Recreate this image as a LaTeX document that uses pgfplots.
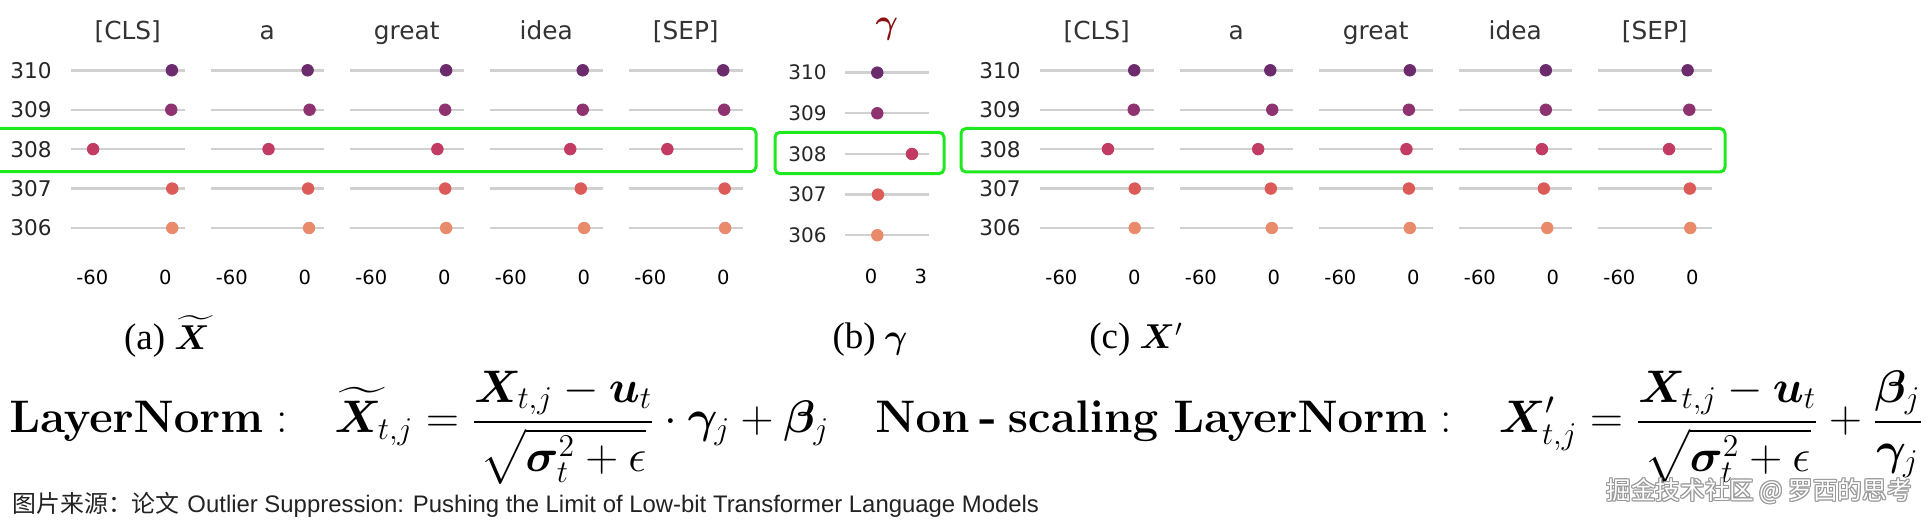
\documentclass[border=0pt]{standalone}
\usepackage{amsmath,bm}
\usepackage[no-math]{fontspec}
\usepackage{pgfplots}
\usepackage{pgfplotstable}
\pgfplotsset{compat=1.18}
\newfontfamily\dejavu{DejaVu Sans}
\newfontfamily\timesfont{Liberation Serif}
\newfontfamily\arialfont{Liberation Sans}
\newfontfamily\cjk{Noto Sans CJK SC}

\definecolor{c310}{HTML}{6C2B6D}
\definecolor{c309}{HTML}{8F3370}
\definecolor{c308}{HTML}{C13B62}
\definecolor{c307}{HTML}{DC5B59}
\definecolor{c306}{HTML}{E98A6B}
\definecolor{gridgray}{HTML}{D0D0D0}
\definecolor{hdr}{HTML}{333333}
\definecolor{lbl}{HTML}{262626}
\definecolor{boxgreen}{RGB}{30,232,30}
\definecolor{gammared}{HTML}{8B1010}
\definecolor{srcgray}{HTML}{222222}

% panel (a): X tilde
\pgfplotstableread{
row cl cls a great idea sep
310 r310 5.5 2.4 1.6 -0.8 0.0
309 r309 5.0 4.0 0.8 -0.8 0.8
308 r308 -59.4 -29.8 -5.6 -11.1 -46.0
307 r307 5.8 2.8 0.8 -2.4 1.2
306 r306 5.8 3.6 1.6 0.4 1.6
}\tabA
% panel (b): gamma
\pgfplotstableread{
row cl g
310 r310 0.38
309 r309 0.38
308 r308 2.47
307 r307 0.42
306 r306 0.38
}\tabB
% panel (c): X'
\pgfplotstableread{
row cl cls a great idea sep
310 r310 0.0 -2.8 -2.8 -5.7 -3.8
309 r309 -0.4 -1.2 -3.6 -5.7 -2.4
308 r308 -21.6 -12.8 -5.6 -8.9 -19.1
307 r307 0.4 -2.4 -3.6 -7.3 -2.0
306 r306 0.4 -1.6 -2.8 -4.5 -1.6
}\tabC

\pgfplotsset{
 dots/.style={only marks, scatter, scatter src=explicit symbolic, mark=*, mark size=2.9pt,
   scatter/classes={
     r310={mark=*,draw=c310,fill=c310},
     r309={mark=*,draw=c309,fill=c309},
     r308={mark=*,draw=c308,fill=c308},
     r307={mark=*,draw=c307,fill=c307},
     r306={mark=*,draw=c306,fill=c306}}},
 base/.style={scale only axis, anchor=south west, ymin=305.5, ymax=310.5,
   axis line style={draw=none}, major tick length=0pt,
   ymajorgrids, major grid style={line width=1.2pt, gridgray},
   ytick={306,307,308,309,310}, yticklabels={}, clip=false,
   xticklabel style={font=\dejavu\fontsize{9.75}{11}\selectfont, anchor=center, inner sep=0pt, text=black},
   yticklabel style={font=\dejavu\fontsize{10.8}{12}\selectfont, anchor=east, inner sep=0pt, text=lbl},
   title style={font=\dejavu\fontsize{12.4}{14}\selectfont, text=hdr, at={(0.5,1)}, anchor=base, inner sep=0pt}},
 big/.style={base, width=56.75pt, height=98.55pt, xmin=-77.6, xmax=15.9,
   xtick={-60,0}, xticklabels={-60,0}, xticklabel style={yshift=-14.65pt},
   yticklabel style={xshift=-9.5pt}, title style={yshift=-0.7pt}},
}

\begin{document}
\begin{tikzpicture}
\useasboundingbox (0,0) rectangle (965pt,-261pt);

% ---------- panel (a) ----------
\begin{axis}[big, at={(35.5pt,-123.85pt)}, title={[CLS]}, yticklabels={306,307,308,309,310}]
\addplot[dots] table[x=cls,y=row,meta=cl]{\tabA};
\end{axis}
\begin{axis}[big, at={(105.25pt,-123.85pt)}, title={a}]
\addplot[dots] table[x=a,y=row,meta=cl]{\tabA};
\end{axis}
\begin{axis}[big, at={(175pt,-123.85pt)}, title={great}]
\addplot[dots] table[x=great,y=row,meta=cl]{\tabA};
\end{axis}
\begin{axis}[big, at={(244.75pt,-123.85pt)}, title={idea}]
\addplot[dots] table[x=idea,y=row,meta=cl]{\tabA};
\end{axis}
\begin{axis}[big, at={(314.5pt,-123.85pt)}, title={[SEP]}]
\addplot[dots] table[x=sep,y=row,meta=cl]{\tabA};
\end{axis}

% ---------- panel (b) ----------
\begin{axis}[base, width=41.7pt, height=101.65pt, at={(422.65pt,-127.8pt)},
  xmin=-1.55, xmax=3.48, xtick={0,3}, xticklabels={0,3}, xticklabel style={yshift=-10.55pt},
  yticklabels={306,307,308,309,310},
  yticklabel style={font=\dejavu\fontsize{10}{12}\selectfont, xshift=-9.15pt},
  title={$\bm{\gamma}$}, title style={text=gammared, font=\fontsize{16}{19}\selectfont, yshift=3.5pt}]
\addplot[dots] table[x=g,y=row,meta=cl]{\tabB};
\end{axis}

% ---------- panel (c) ----------
\begin{axis}[big, at={(520pt,-123.85pt)}, title={[CLS]}, yticklabels={306,307,308,309,310}]
\addplot[dots] table[x=cls,y=row,meta=cl]{\tabC};
\end{axis}
\begin{axis}[big, at={(589.75pt,-123.85pt)}, title={a}]
\addplot[dots] table[x=a,y=row,meta=cl]{\tabC};
\end{axis}
\begin{axis}[big, at={(659.5pt,-123.85pt)}, title={great}]
\addplot[dots] table[x=great,y=row,meta=cl]{\tabC};
\end{axis}
\begin{axis}[big, at={(729.25pt,-123.85pt)}, title={idea}]
\addplot[dots] table[x=idea,y=row,meta=cl]{\tabC};
\end{axis}
\begin{axis}[big, at={(799pt,-123.85pt)}, title={[SEP]}]
\addplot[dots] table[x=sep,y=row,meta=cl]{\tabC};
\end{axis}

\begin{scope}[x=0.5pt,y=-0.5pt]
% highlight boxes
\draw[boxgreen, line width=1.5pt, rounded corners=2.5pt] (-6,128.3) rectangle (756,171.7);
\draw[boxgreen, line width=1.5pt, rounded corners=2.5pt] (775,132.3) rectangle (944,173.7);
\draw[boxgreen, line width=1.5pt, rounded corners=2.5pt] (961,128.5) rectangle (1725,172);

% captions
\node[anchor=base, inner sep=0] at (167,350) {\timesfont\fontsize{18.5}{22}\selectfont (a) $\widetilde{\bm{X}}$};
\node[anchor=base, inner sep=0] at (870,349) {\timesfont\fontsize{18.5}{22}\selectfont (b) $\bm{\gamma}$};
\node[anchor=base, inner sep=0] at (1136,349) {\timesfont\fontsize{18.5}{22}\selectfont (c) $\bm{X}'$};

% formulas
\node[anchor=base west, inner sep=0] at (9,433) {\scalebox{1.1}{\fontsize{21.5}{24}\selectfont
  $\displaystyle \mathbf{LayerNorm}\;{:}\quad \widetilde{\bm{X}}_{t,j}=\frac{\bm{X}_{t,j}-\bm{u}_t}{\sqrt{\bm{\sigma}_t^2+\epsilon}}\cdot\bm{\gamma}_j+\bm{\beta}_j$}};
\node[anchor=base west, inner sep=0] at (875,433) {\scalebox{1.1}{\fontsize{21.5}{24}\selectfont
  $\displaystyle \mathbf{Non}\mathbin{\textbf{-}}\mathbf{scaling\ LayerNorm}\;{:}\quad \bm{X}'_{t,j}=\frac{\bm{X}_{t,j}-\bm{u}_t}{\sqrt{\bm{\sigma}_t^2+\epsilon}}+\frac{\bm{\beta}_j}{\bm{\gamma}_j}$}};

% source line
\node[anchor=base west, inner sep=0, text=srcgray] at (12,513) {\fontsize{11.95}{14}\selectfont{\cjk 图片来源：论文} {\arialfont Outlier Suppression: Pushing the Limit of Low-bit Transformer Language Models}};

% watermark
\foreach \dx/\dy in {-1/0,1/0,0/-1,0/1,-1/-1,1/1,-1/1,1/-1}
  \node[anchor=base east, inner sep=0, text=gray!80] at (1912+\dx,500+\dy) {\cjk\fontsize{12.3}{14}\selectfont 掘金技术社区 @ 罗西的思考};
\node[anchor=base east, inner sep=0, text=white] at (1912,500) {\cjk\fontsize{12.3}{14}\selectfont 掘金技术社区 @ 罗西的思考};
\end{scope}
\end{tikzpicture}
\end{document}
